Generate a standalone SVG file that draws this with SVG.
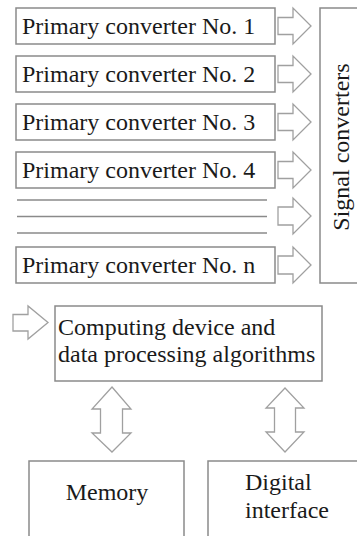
<svg xmlns="http://www.w3.org/2000/svg" width="357" height="536" viewBox="0 0 357 536" font-family="'Liberation Serif', 'Times New Roman', 'DejaVu Serif', serif" font-size="24">
<style>
.box{fill:#fff;stroke:#8a8a8a;stroke-width:1.5}
.arr{fill:#fff;stroke:#a0a0a0;stroke-width:1.3;stroke-linejoin:miter}
.ln{stroke:#8a8a8a;stroke-width:1.5}
.t{font-family:'Liberation Serif','Times New Roman','DejaVu Serif',serif;font-size:24px;fill:#1a1a1a}
</style>
<rect width="357" height="536" fill="#fff"/>
<g id="pc1"><rect class="box" x="16" y="8" width="259" height="36"/><text class="t" x="22" y="34">Primary converter No. 1</text></g>
<g id="pc2"><rect class="box" x="16" y="56" width="259" height="36"/><text class="t" x="22" y="82">Primary converter No. 2</text></g>
<g id="pc3"><rect class="box" x="16" y="104" width="259" height="36"/><text class="t" x="22" y="130">Primary converter No. 3</text></g>
<g id="pc4"><rect class="box" x="16" y="152" width="259" height="36"/><text class="t" x="22" y="178">Primary converter No. 4</text></g>
<g id="dots"><line class="ln" x1="17" y1="200" x2="267" y2="200"/><line class="ln" x1="17" y1="216.5" x2="267" y2="216.5"/><line class="ln" x1="17" y1="233" x2="267" y2="233"/></g>
<g id="pcn"><rect class="box" x="16" y="247" width="259" height="36"/><text class="t" x="22" y="273">Primary converter No. n</text></g>
<g id="signal"><rect class="box" x="320" y="8" width="45" height="275"/><text class="t" transform="translate(349,147) rotate(-90)" text-anchor="middle">Signal converters</text></g>
<g id="computing"><rect class="box" x="55" y="306" width="267" height="75"/><text class="t" x="58" y="335">Computing device and</text><text class="t" x="58" y="362">data processing algorithms</text></g>
<g id="memory"><rect class="box" x="29" y="461" width="155" height="90"/><text class="t" x="107" y="500" text-anchor="middle">Memory</text></g>
<g id="digital"><rect class="box" x="208" y="461" width="160" height="90"/><text class="t" x="245" y="490">Digital</text><text class="t" x="245" y="518">interface</text></g>
<g id="connectors">
<path class="arr" d="M278,17.5 H293 V8 L311,26 L293,44 V34.5 H278 Z"/>
<path class="arr" d="M278,65.5 H293 V56 L311,74 L293,92 V82.5 H278 Z"/>
<path class="arr" d="M278,113.5 H293 V104 L311,122 L293,140 V130.5 H278 Z"/>
<path class="arr" d="M278,161.5 H293 V152 L311,170 L293,188 V178.5 H278 Z"/>
<path class="arr" d="M278,207 H293 V198 L311,216 L293,234 V225 H278 Z"/>
<path class="arr" d="M278,256 H293 V247 L311,265 L293,283 V274 H278 Z"/>
<path class="arr" d="M13,314.5 H28 V306 L48,322.5 L28,339 V331 H13 Z"/>
<path class="arr" d="M112,387 L131,409 H122.5 V433 H131 L112,452 L92,433 H100.5 V409 H92 Z"/>
<path class="arr" d="M285,388 L304,408 H295.5 V432 H304 L285,452 L266,432 H274.5 V408 H266 Z"/>
</g>
</svg>
